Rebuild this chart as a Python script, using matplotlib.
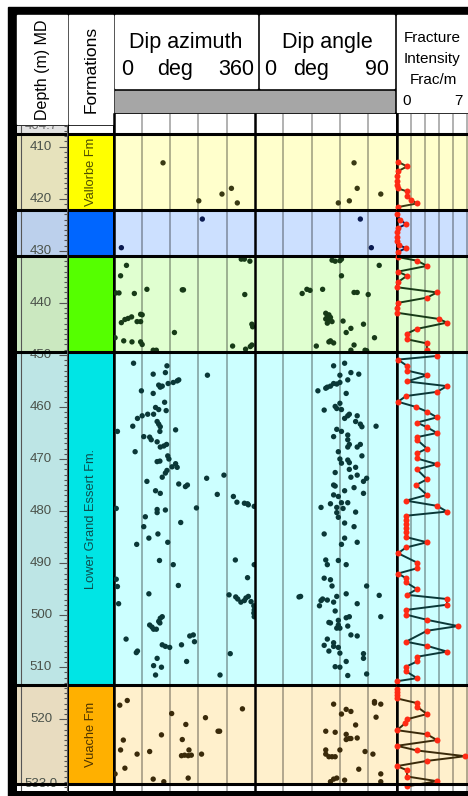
import numpy as np
import matplotlib.pyplot as plt
from matplotlib.patches import Rectangle

plt.rcParams['font.family'] = ['Liberation Sans', 'DejaVu Sans']

W, H = 468, 796

# formations (top/base in m MD) and their colours
form_names = ['Vallorbe Fm', '', '', 'Lower Grand Essert Fm.', 'Vuache Fm']
form_tops = [407.6, 422.25, 431.0, 449.5, 513.4]
form_bases = [422.25, 431.0, 449.5, 513.4, 532.4]
form_colors = ['#ffff00', '#0066ff', '#55ff00', '#00e5e5', '#ffb000']
track_fills = ['#ffffcc', '#cce0ff', '#e0ffd0', '#ccffff', '#fff0cc']
depth_fills = ['#e6e2bc', '#bcd0ec', '#cbe8c0', '#bde5e5', '#e8dcc0']
dark_tones = ['#3a3a14', '#0a1a50', '#173a17', '#0a3838', '#3a2a0a']
label_tones = ['#4d4d00', '#000000', '#000000', '#0d4d4d', '#4d3300']

depth_labels = [410, 420, 430, 440, 450, 460, 470, 480, 490, 500, 510, 520]
top_md, base_md = '404.7', '533.0'

# picked fractures: (depth m, dip azimuth deg)
az_picks = np.array([
    (413.1, 126), (418.0, 300), (419.1, 276), (420.4, 217), (420.8, 315),
    (423.9, 226), (429.4, 20),
    (431.6, 325), (431.6, 333), (432.0, 347), (432.8, 33), (434.8, 18),
    (437.4, 85), (437.5, 175), (437.5, 178), (438.1, 6), (438.1, 14),
    (438.2, 53), (438.4, 334), (442.2, 69), (442.3, 73), (442.7, 46),
    (443.0, 37), (443.2, 29), (443.6, 60), (443.6, 69), (443.8, 20),
    (444.1, 352), (444.6, 354), (445.7, 155), (446.7, 4), (447.3, 26),
    (447.5, 47), (447.5, 69), (448.0, 73), (448.1, 352), (448.3, 303),
    (448.4, 348), (448.9, 336), (449.1, 101), (449.1, 109),
    (451.6, 51), (452.1, 136), (453.4, 132), (453.7, 101), (453.9, 239),
    (454.8, 166), (455.0, 162), (455.3, 152), (455.5, 139), (455.8, 115),
    (456.0, 124), (456.2, 119), (456.9, 71), (457.4, 101), (459.1, 130),
    (460.1, 107), (460.5, 115), (460.7, 134), (461.4, 87), (461.4, 102),
    (461.7, 73), (462.2, 61), (462.8, 111), (463.3, 115), (463.7, 49),
    (463.8, 119), (464.4, 158), (464.7, 10), (464.7, 118), (465.7, 77),
    (465.8, 92), (466.3, 96), (466.7, 111), (467.2, 135), (467.5, 128),
    (467.7, 119), (468.6, 55), (469.4, 138), (470.0, 141), (470.4, 118),
    (470.5, 111), (470.9, 158), (471.5, 149), (471.6, 162), (472.2, 136),
    (472.7, 132), (473.1, 281), (473.5, 124), (473.7, 237), (474.3, 85),
    (474.8, 166), (475.0, 188), (475.3, 183), (476.1, 107), (476.6, 119),
    (476.8, 264), (477.2, 305), (478.3, 314), (478.5, 333), (478.6, 341),
    (478.8, 343), (479.1, 358), (479.4, 211), (479.5, 7), (479.7, 111),
    (479.8, 132), (480.3, 111), (481.1, 81), (482.2, 171), (483.0, 77),
    (484.4, 113), (485.2, 90), (486.0, 138), (486.4, 59), (489.4, 310),
    (489.5, 117), (490.3, 152), (490.3, 358), (492.8, 341), (493.1, 7),
    (494.3, 165), (494.5, 10), (495.9, 90), (496.1, 294), (496.4, 343),
    (496.5, 311), (496.7, 337), (496.9, 316), (497.2, 333), (497.4, 350),
    (497.5, 324), (497.8, 13), (498.2, 357), (499.0, 358), (499.6, 357),
    (500.3, 358), (500.3, 124), (500.6, 119), (501.2, 115), (501.5, 118),
    (501.9, 92), (502.3, 98), (502.7, 102), (502.7, 109), (503.8, 203),
    (504.0, 194), (504.6, 32), (505.1, 206), (505.7, 124), (505.7, 173),
    (506.0, 132), (506.2, 143), (506.9, 61), (507.2, 58), (507.4, 297),
    (508.3, 111), (508.9, 186), (509.7, 102), (510.0, 122), (511.5, 107),
    (511.5, 271),
    (516.4, 35), (517.3, 16), (518.0, 328), (518.9, 148), (519.7, 234),
    (521.0, 184), (522.3, 266), (522.3, 270), (523.0, 122), (523.9, 175),
    (524.0, 25), (525.9, 18), (525.9, 192), (526.2, 92), (526.7, 60),
    (526.7, 224), (526.9, 181), (526.9, 198), (527.0, 173), (527.0, 190),
    (529.4, 29), (530.5, 4), (531.3, 190), (531.5, 101), (532.0, 128),
])

# picked fractures: (depth m, dip angle deg)
dip_picks = np.array([
    (413.1, 63), (418.0, 65), (419.1, 80), (420.4, 60), (420.8, 53),
    (423.9, 67), (429.4, 74),
    (431.6, 55), (431.8, 49), (431.9, 54), (432.0, 51), (432.8, 79),
    (434.8, 55), (437.4, 33), (437.4, 43), (437.6, 35), (438.0, 63),
    (438.0, 65), (438.2, 30), (438.4, 72), (442.0, 45), (442.3, 47),
    (442.6, 46), (442.8, 48), (443.1, 45), (443.3, 47), (443.5, 56),
    (443.6, 49), (443.9, 46), (444.1, 69), (444.9, 61), (445.7, 58),
    (446.7, 76), (447.3, 48), (447.5, 47), (447.7, 50), (448.1, 63),
    (448.3, 39), (449.1, 61), (449.1, 70), (449.2, 71),
    (451.6, 57), (452.1, 50), (453.4, 61), (453.7, 66), (453.9, 54),
    (454.8, 59), (455.3, 54), (455.5, 50), (455.6, 52), (456.0, 48),
    (456.2, 46), (456.4, 45), (456.9, 40), (457.4, 58), (459.3, 54),
    (459.9, 51), (460.3, 52), (460.5, 55), (460.6, 44), (461.4, 60),
    (461.7, 59), (461.7, 65), (462.2, 57), (462.8, 64), (463.3, 67),
    (463.7, 77), (463.8, 68), (464.3, 52), (464.7, 55), (465.4, 59),
    (465.7, 50), (466.3, 59), (467.2, 60), (467.2, 67), (467.7, 59),
    (467.7, 65), (468.6, 53), (469.4, 68), (470.0, 54), (470.2, 59),
    (470.7, 60), (470.8, 55), (471.6, 64), (472.0, 60), (472.6, 51),
    (473.1, 65), (473.5, 61), (473.7, 71), (474.3, 69), (475.0, 50),
    (475.2, 51), (475.5, 63), (476.1, 57), (476.6, 69), (476.9, 50),
    (477.2, 53), (478.4, 55), (478.4, 59), (478.6, 48), (479.3, 42),
    (479.3, 52), (479.5, 56), (480.2, 64), (480.3, 52), (481.2, 53),
    (482.3, 57), (483.0, 63), (484.4, 44), (485.2, 57), (486.0, 65),
    (486.4, 55), (489.4, 45), (489.5, 53), (490.3, 46), (490.3, 58),
    (492.9, 44), (493.2, 48), (494.4, 49), (494.4, 71), (495.9, 58),
    (496.2, 79), (496.4, 29), (496.4, 52), (496.5, 28), (496.9, 43),
    (497.1, 46), (497.2, 42), (497.5, 50), (497.8, 65), (498.2, 41),
    (499.2, 51), (500.3, 60), (500.3, 80), (500.5, 58), (501.0, 53),
    (501.4, 47), (501.5, 48), (501.9, 53), (502.1, 59), (502.5, 52),
    (502.5, 54), (503.8, 61), (504.0, 65), (504.6, 46), (505.3, 50),
    (505.8, 44), (506.0, 50), (506.2, 53), (506.9, 47), (507.3, 54),
    (507.4, 69), (508.3, 69), (508.9, 58), (509.9, 51), (510.0, 54),
    (511.3, 71), (511.6, 59),
    (516.6, 76), (516.9, 76), (517.1, 50), (517.1, 80), (518.1, 58),
    (518.5, 61), (519.0, 55), (519.6, 77), (521.1, 64), (522.3, 45),
    (522.5, 51), (522.9, 58), (523.6, 65), (523.7, 60), (523.7, 61),
    (523.9, 58), (525.9, 45), (525.9, 54), (526.2, 70), (526.7, 45),
    (526.7, 75), (527.2, 47), (527.2, 49), (527.2, 51), (529.6, 66),
    (530.5, 80), (531.3, 52), (531.5, 50), (531.7, 57), (532.0, 48),
    (532.0, 80),
])

# fracture intensity log: (depth m, frac/m)
frac_log = np.array([
    (412.9, 0.1), (413.8, 1.0), (414.7, 0.1), (415.6, 0.0), (416.5, 0.0),
    (417.4, 0.0), (418.0, 0.1), (418.6, 1.0), (419.5, 1.0), (420.2, 1.4),
    (420.9, 2.0), (421.6, 0.1),
    (423.0, 0.0), (424.0, 0.3), (424.9, 0.9), (425.6, 0.1), (426.4, 0.0),
    (427.3, 0.0), (428.2, 0.0), (428.9, 0.2), (429.5, 0.9), (430.2, 0.1),
    (431.2, 0.1), (431.9, 2.0), (432.9, 3.0), (434.0, 0.1), (434.8, 1.0),
    (436.0, 0.1), (437.0, 0.0), (438.0, 4.0), (439.0, 3.0), (440.0, 0.1),
    (440.9, 0.0), (441.9, 0.0), (443.1, 4.2), (443.8, 5.0), (445.0, 2.0),
    (445.9, 1.0), (447.0, 1.0), (447.8, 3.0), (449.0, 3.0),
    (450.2, 4.0), (450.9, 0.1), (452.1, 1.0), (453.0, 1.0), (453.9, 3.0),
    (455.1, 1.0), (456.0, 5.0), (457.1, 4.0), (457.9, 0.9), (459.0, 0.1),
    (460.0, 1.9), (460.9, 3.0), (462.0, 4.0), (463.0, 2.0), (463.9, 3.0),
    (465.0, 4.0), (465.8, 2.0), (466.3, 2.0), (468.0, 3.0), (468.9, 2.0),
    (469.9, 2.0), (471.0, 4.0), (472.0, 2.0), (473.9, 3.0), (475.0, 1.9),
    (476.9, 3.0), (478.0, 0.9), (479.0, 4.0), (480.1, 5.0), (480.9, 0.9),
    (481.7, 0.9), (482.5, 0.9), (483.3, 0.9), (484.1, 0.9), (485.0, 0.9),
    (486.0, 3.0), (487.0, 0.9), (488.1, 0.1), (489.9, 2.0), (491.0, 2.0),
    (492.0, 0.1), (492.9, 0.9), (493.7, 0.9), (495.0, 2.0), (496.1, 1.0),
    (496.9, 5.0), (498.0, 5.0), (499.0, 0.9), (499.9, 0.9), (500.9, 3.0),
    (502.1, 6.1), (503.0, 3.0), (505.1, 0.9), (505.9, 3.0), (507.0, 5.0),
    (508.0, 2.0), (508.9, 2.0), (509.9, 0.9), (510.8, 0.9), (512.1, 2.0),
    (512.7, 0.0),
    (514.1, 0.0), (514.7, 0.0), (515.3, 0.0), (516.0, 0.0), (516.9, 2.0),
    (517.6, 2.0), (519.0, 3.0), (520.0, 1.0), (520.8, 0.8), (522.1, 0.0),
    (522.9, 3.0), (524.0, 4.0), (525.1, 0.0), (526.0, 2.0), (527.1, 6.8),
    (528.0, 3.0), (529.0, 0.0), (529.8, 1.0), (531.0, 1.0), (531.9, 4.0),
    (532.9, 1.0),
])

# vertical scale of the log (pixels)
Y410, PX_PER_M = 146.7, 5.205


def depth_at(ypix):
    return 410 + (ypix - Y410) / PX_PER_M


def formation_of(depth):
    return np.searchsorted(form_tops, depth, side='right') - 1


def px_axes(x0, x1, y0, y1):
    ax = fig.add_axes([x0 / W, 1 - y1 / H, (x1 - x0) / W, (y1 - y0) / H])
    ax.set_ylim(depth_at(y1), depth_at(y0))
    ax.set_facecolor('white')
    ax.tick_params(left=False, bottom=False, labelleft=False, labelbottom=False)
    for s in ax.spines.values():
        s.set_visible(False)
    return ax


def boundaries(ax):
    for d in sorted(set(form_tops + form_bases)):
        ax.axhline(d, color='black', lw=2.2, zorder=6)


fig = plt.figure(figsize=(W / 100, H / 100), dpi=100)

# ---- frame and header cells
bg = fig.add_axes([0, 0, 1, 1], zorder=-10)
bg.set_xlim(0, W)
bg.set_ylim(H, 0)
bg.axis('off')
bg.add_patch(Rectangle((8, 7), W - 8, H - 7, color='black'))
for x0, y0, x1, y1, c in [(17, 15, 66.5, 123.5, 'white'),
                          (68.5, 15, 113, 123.5, 'white'),
                          (115, 15, 257, 88, 'white'),
                          (260, 15, 393.5, 88, 'white'),
                          (115, 90.5, 393.5, 112, '#a6a6a6'),
                          (397, 15, 468, 112, 'white')]:
    bg.add_patch(Rectangle((x0, y0), x1 - x0, y1 - y0, color=c))

bg.text(42, 70, 'Depth (m) MD', rotation=90, ha='center', va='center', fontsize=11.5)
bg.text(91, 69, 'Formations', rotation=90, ha='center', va='center', fontsize=12.5)
bg.text(186, 48, 'Dip azimuth', ha='center', va='baseline', fontsize=15.5)
bg.text(121, 75, '0', ha='left', va='baseline', fontsize=15.5)
bg.text(175, 75, 'deg', ha='center', va='baseline', fontsize=15.5)
bg.text(254, 75, '360', ha='right', va='baseline', fontsize=15.5)
bg.text(327, 48, 'Dip angle', ha='center', va='baseline', fontsize=15.5)
bg.text(264, 75, '0', ha='left', va='baseline', fontsize=15.5)
bg.text(311, 75, 'deg', ha='center', va='baseline', fontsize=15.5)
bg.text(389, 75, '90', ha='right', va='baseline', fontsize=15.5)
bg.text(432, 42.5, 'Fracture', ha='center', va='baseline', fontsize=11)
bg.text(432, 63, 'Intensity', ha='center', va='baseline', fontsize=11)
bg.text(433, 84, 'Frac/m', ha='center', va='baseline', fontsize=11)
bg.text(402, 105, '0', ha='left', va='baseline', fontsize=11)
bg.text(463, 105, '7', ha='right', va='baseline', fontsize=11)

# ---- depth track
axd = px_axes(17, 66.5, 125.5, 791)
top_d, bot_d = axd.get_ylim()[1], axd.get_ylim()[0]
axd.axhspan(top_d, form_tops[0], color='#e3e3e3', lw=0)
for i in range(len(form_tops)):
    axd.axhspan(form_tops[i], form_bases[i], color=depth_fills[i], lw=0)
axd.axvline(0.08, color='#555555', lw=0.8)
axd.spines['right'].set_visible(True)
axd.spines['right'].set_color('#555555')
axd.spines['right'].set_linewidth(0.8)
axd.yaxis.tick_right()
axd.set_yticks(depth_labels)
axd.set_yticks(np.arange(406, 534), minor=True)
axd.tick_params(axis='y', which='both', direction='in', right=True,
                labelright=False, color='#555555', width=0.8)
axd.tick_params(axis='y', which='major', length=5.5)
axd.tick_params(axis='y', which='minor', length=2.5)
tr = axd.get_yaxis_transform()
for d in depth_labels:
    axd.text(0.485, d, str(d), transform=tr, ha='center', va='center',
             fontsize=9.5, color='#4a524a')
axd.text(0.485, top_d + 0.1, top_md, transform=tr, ha='center', va='center',
         fontsize=9.5, color='#6a6a6a', clip_on=True)
axd.text(0.485, 532.5, base_md, transform=tr, ha='center', va='center',
         fontsize=9.5, color='#4a524a', clip_on=True)
boundaries(axd)

# ---- formation column
axf = px_axes(68.5, 113, 125.5, 791)
for i in range(len(form_tops)):
    axf.axhspan(form_tops[i], form_bases[i], color=form_colors[i], lw=0)
    if form_names[i]:
        axf.text(0.5, (form_tops[i] + form_bases[i]) / 2, form_names[i],
                 transform=axf.get_yaxis_transform(), rotation=90,
                 ha='center', va='center', fontsize=9.3, color=label_tones[i])
boundaries(axf)


# ---- data tracks
def data_track(x0, x1, xmax, grid):
    ax = px_axes(x0, x1, 113.5, 791)
    ax.set_xlim(0, xmax)
    for i in range(len(form_tops)):
        ax.axhspan(form_tops[i], form_bases[i], color=track_fills[i], lw=0)
    for g in grid:
        ax.axvline(g, color='black', alpha=0.33, lw=1.3, zorder=1.5)
    ax.spines['left'].set_visible(True)
    ax.spines['left'].set_linewidth(1.8)
    ax.spines['left'].set_color('black')
    boundaries(ax)
    return ax


axa = data_track(113.5, 255, 360, [72, 144, 216, 288])
axp = data_track(255, 396.5, 90, [18, 36, 54, 72])
axi = data_track(397, 468, 7.1, [1.4, 2.8, 4.2, 5.6, 7.0])

for ax, picks in [(axa, az_picks), (axp, dip_picks)]:
    zone = formation_of(picks[:, 0])
    ax.scatter(picks[:, 1], picks[:, 0], s=15, marker='o', lw=0,
               c=[dark_tones[z] for z in zone], zorder=5, clip_on=True)

zone = formation_of(frac_log[:, 0])
for i in range(len(form_tops)):
    seg = frac_log[zone == i]
    axi.plot(seg[:, 1], seg[:, 0], color=dark_tones[i], lw=1.4, zorder=4)
    axi.plot(seg[:, 1], seg[:, 0], 'o', color='#ff2a14', ms=4.3, mew=0,
             zorder=5, clip_on=False)

fig.savefig('out.png', dpi=100)
